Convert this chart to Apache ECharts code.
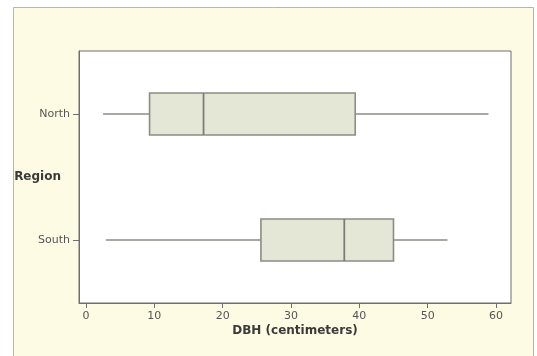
<!DOCTYPE html>
<html><head><meta charset="utf-8">
<script src="https://cdn.jsdelivr.net/npm/echarts@6/dist/echarts.min.js"></script>
<style>html,body{margin:0;padding:0;background:#fff}#c{width:537px;height:356px}</style>
</head><body><div id="c"></div>
<script>
const regions = ['South', 'North'];
const southBox = [2.9, 25.6, 37.8, 45.0, 52.9];
const northBox = [2.5, 9.3, 17.2, 39.4, 58.9];
const xTicks = [0, 10, 20, 30, 40, 50, 60];
const xName = 'DBH (centimeters)';
const yName = 'Region';

const chart = echarts.init(document.getElementById('c'), null, {renderer: 'canvas'});
const font = 'DejaVu Sans';
const boxData = [[0].concat(southBox), [1].concat(northBox)];
const lineCol = '#8a8d84';
function renderBox(params, api) {
  const cat = api.value(0);
  const lo = api.coord([api.value(1), cat]);
  const q1 = api.coord([api.value(2), cat]);
  const md = api.coord([api.value(3), cat]);
  const q3 = api.coord([api.value(4), cat]);
  const hi = api.coord([api.value(5), cat]);
  const h = api.size([0, 1])[1] / 3;
  const y = lo[1];
  const ls = {stroke: lineCol, lineWidth: 1.6};
  return {type: 'group', children: [
    {type: 'line', shape: {x1: lo[0], y1: y, x2: q1[0], y2: y}, style: ls},
    {type: 'line', shape: {x1: q3[0], y1: y, x2: hi[0], y2: y}, style: ls},
    {type: 'rect', shape: {x: q1[0], y: y - h / 2, width: q3[0] - q1[0], height: h},
     style: {fill: '#e4e7d6', stroke: lineCol, lineWidth: 1.6}},
    {type: 'line', shape: {x1: md[0], y1: y - h / 2, x2: md[0], y2: y + h / 2},
     style: {stroke: '#7b7e76', lineWidth: 1.8}}
  ]};
}
chart.setOption({
  backgroundColor: '#ffffff',
  animation: false,
  graphic: [{
    type: 'rect', z: -10, silent: true,
    shape: {x: 13.5, y: 7.5, width: 520, height: 360},
    style: {fill: '#fefbe4', stroke: '#b8b6a8', lineWidth: 1}
  }],
  grid: {left: 79, right: 26, top: 51, bottom: 53, show: true, outerBoundsMode: 'none', containLabel: false,
         backgroundColor: '#ffffff', borderColor: '#6e6e6e', borderWidth: 1},
  xAxis: {
    type: 'value', min: -1.03, max: 62.2,
    name: xName, nameLocation: 'middle', nameGap: 22, nameMoveOverlap: false,
    nameTextStyle: {fontFamily: font, fontWeight: 'bold', fontSize: 12, color: '#3a3a3a'},
    axisLine: {show: true, onZero: false, lineStyle: {color: '#6e6e6e'}},
    axisTick: {show: true, length: 5, customValues: xTicks, lineStyle: {color: '#6e6e6e'}},
    axisLabel: {customValues: xTicks, fontFamily: font, fontSize: 11, color: '#555', margin: 8},
    splitLine: {show: false}
  },
  yAxis: {
    type: 'category', data: regions,
    name: yName, nameLocation: 'middle', nameRotate: 0, nameGap: 18, nameMoveOverlap: false,
    nameTextStyle: {fontFamily: font, fontWeight: 'bold', fontSize: 12, color: '#3a3a3a', align: 'right',
                    padding: [6, 0, 0, 0]},
    axisLine: {show: true, onZero: false, lineStyle: {color: '#6e6e6e'}},
    axisTick: {show: true, length: 6, alignWithLabel: true, lineStyle: {color: '#6e6e6e'}},
    axisLabel: {fontFamily: font, fontSize: 11, color: '#555', margin: 9},
    splitLine: {show: false}
  },
  series: [{
    type: 'custom',
    renderItem: renderBox,
    encode: {x: [1, 2, 3, 4, 5], y: 0},
    data: boxData
  }]
});
</script></body></html>
